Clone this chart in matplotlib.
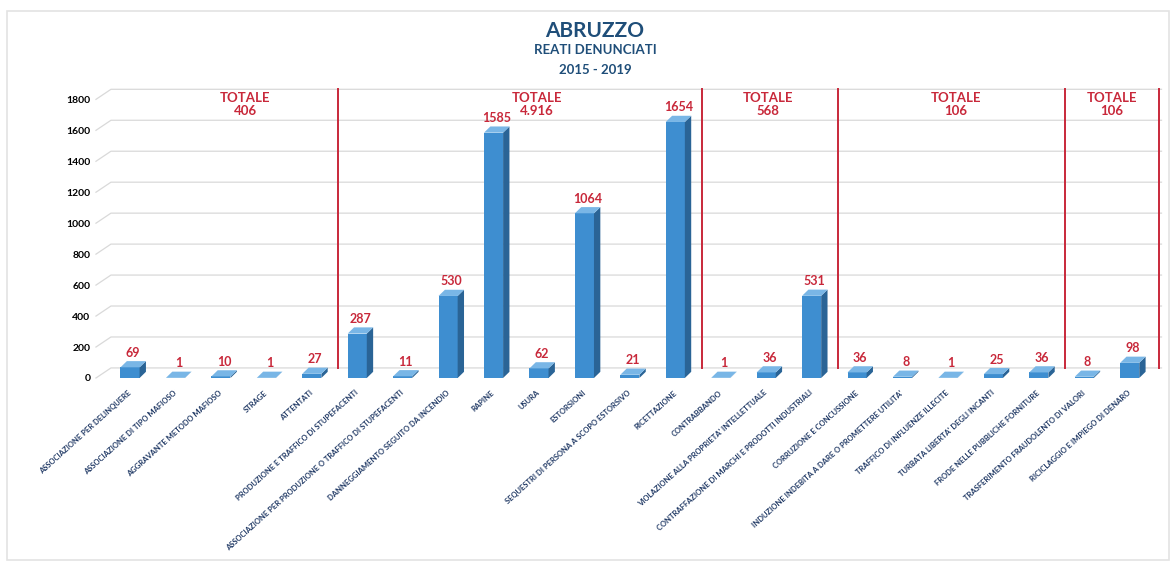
import matplotlib
matplotlib.use("Agg")
import matplotlib.pyplot as plt
from matplotlib.patches import Polygon, Rectangle

plt.rcParams['font.family'] = ['Lato', 'DejaVu Sans']

# Data
categories = [
    "ASSOCIAZIONE PER DELINQUERE",
    "ASSOCIAZIONE DI TIPO MAFIOSO",
    "AGGRAVANTE METODO MAFIOSO",
    "STRAGE",
    "ATTENTATI",
    "PRODUZIONE E TRAFFICO DI STUPEFACENTI",
    "ASSOCIAZIONE PER PRODUZIONE O TRAFFICO DI STUPEFACENTI",
    "DANNEGGIAMENTO SEGUITO DA INCENDIO",
    "RAPINE",
    "USURA",
    "ESTORSIONI",
    "SEQUESTRI DI PERSONA A SCOPO ESTORSIVO",
    "RICETTAZIONE",
    "CONTRABBANDO",
    "VIOLAZIONE ALLA PROPRIETA' INTELLETTUALE",
    "CONTRAFFAZIONE DI MARCHI E PRODOTTI INDUSTRIALI",
    "CORRUZIONE E CONCUSSIONE",
    "INDUZIONE INDEBITA A DARE O PROMETTERE UTILITA'",
    "TRAFFICO DI INFLUENZE ILLECITE",
    "TURBATA LIBERTA' DEGLI INCANTI",
    "FRODE NELLE PUBBLICHE FORNITURE",
    "TRASFERIMENTO FRAUDOLENTO DI VALORI",
    "RICICLAGGIO E IMPIEGO DI DENARO",
]
values = [69, 1, 10, 1, 27, 287, 11, 530, 1585, 62, 1064, 21, 1654,
          1, 36, 531, 36, 8, 1, 25, 36, 8, 98]

# groups: number of categories in each block and its total
group_sizes = [5, 8, 3, 5, 2]
group_totals = ["406", "4.916", "568", "106", "106"]
yticks = list(range(0, 1801, 200))

# style
FRONT = "#3E8ED0"
SIDE = "#2A6496"
TOP = "#79B6E6"
RED = "#C8283A"
NAVY = "#1F4E79"
LABEL_BLUE = "#1F3864"
GRID = "#D9D9D9"
total_x = [2.53, 8.95, 14.04, 18.18, 21.6]   # where the "TOTALE" boxes sit

bar_w = 0.42
ddx, ddy = 0.14, 40        # bar depth (x units, y units)
gdx, gdy = 0.33, 65        # wall depth for grid lines

fig = plt.figure(figsize=(11.76, 5.63), dpi=100)
fig.patches.append(Rectangle((0.006, 0.005), 0.988, 0.975, transform=fig.transFigure,
                             fill=False, edgecolor="#E3E3E3", lw=1.2))
ax = fig.add_axes([0.0816, 0.3286, 0.908, 0.5224])
xmin, xmax = -0.75, len(values) - 0.25
ax.set_xlim(xmin, xmax)
ax.set_ylim(0, 1900)

# grid lines on the back wall, with the slanted stub at the left
for t in yticks:
    ax.plot([xmin, xmin + gdx, xmax - 0.05], [t, t + gdy, t + gdy], color=GRID, lw=0.9, zorder=0,
            clip_on=False)

x = list(range(len(values)))
ax.bar(x, values, width=bar_w, color=FRONT, zorder=3)
for xi, v in zip(x, values):
    r = xi + bar_w / 2
    l = xi - bar_w / 2
    ax.add_patch(Polygon([(r, 0), (r + ddx, ddy), (r + ddx, v + ddy), (r, v)],
                         closed=True, facecolor=SIDE, edgecolor="none", zorder=3))
    ax.add_patch(Polygon([(l, v), (r, v), (r + ddx, v + ddy), (l + ddx, v + ddy)],
                         closed=True, facecolor=TOP, edgecolor="none", zorder=3))
    ax.text(xi + ddx / 2, v + ddy + 15, str(v), ha="center", va="bottom", color=RED,
            fontsize=9, fontweight="bold", zorder=4)

# separators and totals
start = 0
for size, tot, tx in zip(group_sizes, group_totals, total_x):
    end = start + size
    sep = end - 0.5 + 0.08 if end < len(values) else xmax - 0.1
    ax.plot([sep, sep], [gdy, 1865], color=RED, lw=1.4, zorder=2)
    ax.text(tx, 1845, "TOTALE\n" + tot, ha="center", va="top", color=RED,
            fontsize=9.5, fontweight="bold", linespacing=1.1)
    start = end

ax.set_yticks(yticks)
ax.set_yticklabels([str(t) for t in yticks], fontsize=7.5, fontweight="bold")
ax.set_xticks([xi - 0.05 for xi in x])
ax.set_xticklabels(categories, rotation=42, ha="right", rotation_mode="anchor",
                   fontsize=5.5, fontweight="bold", color=LABEL_BLUE)
ax.tick_params(axis="both", length=0)
ax.tick_params(axis="x", pad=8)
ax.tick_params(axis="y", pad=4)
for s in ax.spines.values():
    s.set_visible(False)

fig.text(0.506, 0.945, "ABRUZZO", ha="center", va="center", color=NAVY, fontsize=15, fontweight="bold")
fig.text(0.506, 0.912, "REATI DENUNCIATI", ha="center", va="center", color=NAVY, fontsize=9.5,
         fontweight="bold")
fig.text(0.506, 0.876, "2015 - 2019", ha="center", va="center", color=NAVY, fontsize=9.5,
         fontweight="bold")

fig.savefig("out.png", dpi=100)
